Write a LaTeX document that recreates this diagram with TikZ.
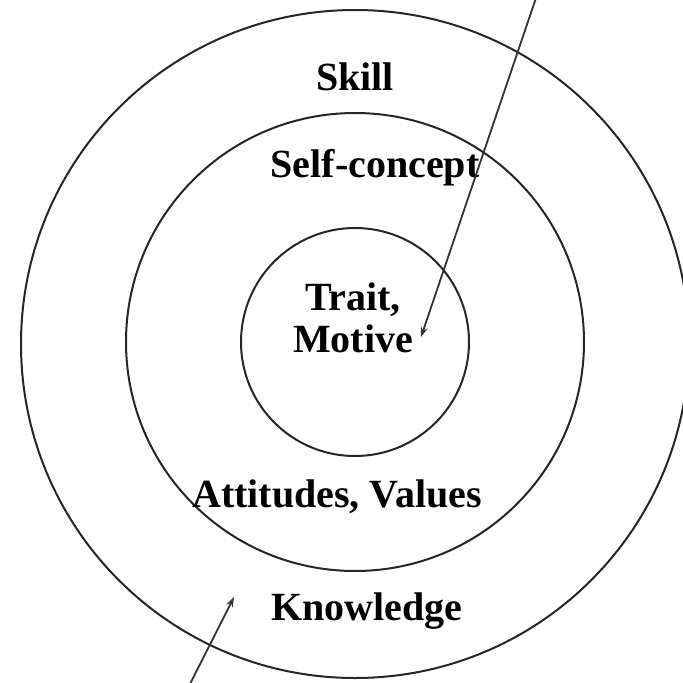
\documentclass[tikz,border=0pt]{standalone}
\usepackage{fontspec}
\setmainfont{Liberation Serif}
\usetikzlibrary{arrows.meta}
\begin{document}
\begin{tikzpicture}[x=1pt,y=-1pt,
  ring/.style={draw=black!85,line width=2pt,circle,inner sep=0pt},
  lbl/.style={font=\fontsize{40}{42}\selectfont\bfseries,inner sep=0pt,align=center},
  pointer/.style={draw=black!80,line width=1.8pt,-{Stealth[length=10pt,width=7pt]}}]
\useasboundingbox (0,0) rectangle (683,683);
\clip (0,0) rectangle (683,683);
\fill[white] (0,0) rectangle (683,683);
\node[ring,minimum size=668pt] (outer) at (355,344) {};
\node[ring,minimum size=458pt] (middle) at (355,342) {};
\node[ring,minimum size=228pt] (inner) at (355,342) {};
\node[lbl] (skill) at (355,77) {Skill};
\node[lbl] (self) at (375,168) {Self-concept};
\node[lbl] (trait) at (353,318) {Trait,\\Motive};
\node[lbl] (att) at (337,497) {Attitudes, Values};
\node[lbl,anchor=base] (know) at (367,620) {Knowledge};
\coordinate (topend) at (536,-2);
\coordinate (toptip) at (421,337);
\coordinate (botend) at (189,686);
\coordinate (bottip) at (234,597);
\draw[pointer] (topend) -- (toptip);
\draw[pointer] (botend) -- (bottip);
\end{tikzpicture}
\end{document}
